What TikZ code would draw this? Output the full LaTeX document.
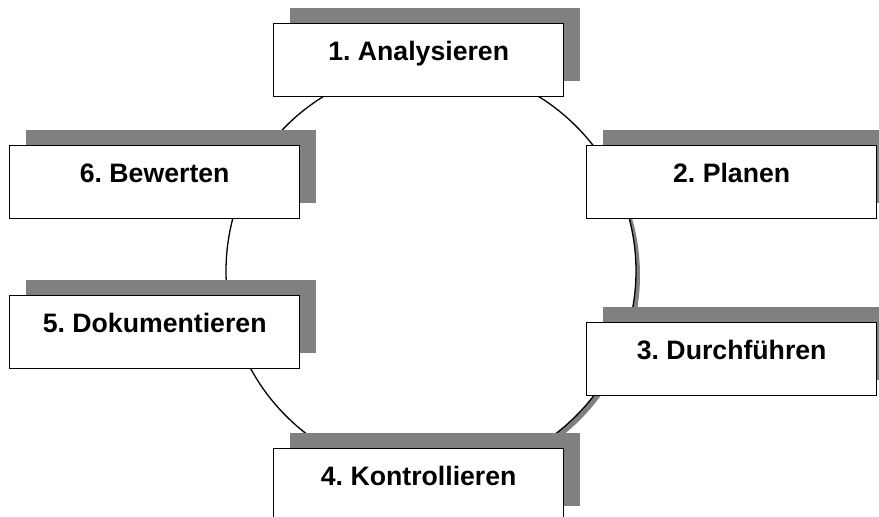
\documentclass[tikz,border=0pt]{standalone}
\usepackage{fontspec}
\setmainfont{Liberation Sans}
\usetikzlibrary{shadows}
\definecolor{shadowgray}{RGB}{128,128,128}
\tikzset{
  stepbox/.style={draw=black, line width=1.4pt, fill=white, rectangle,
    minimum width=290pt, inner xsep=0pt, inner ysep=0pt,
    text height=37pt, text depth=36pt, anchor=north west,
    font=\fontsize{26.67}{30}\selectfont\bfseries\frenchspacing,
    drop shadow={shadow xshift=16pt, shadow yshift=16pt, opacity=1, fill=shadowgray, draw=none}},
  cyclering/.style={circle, draw=black, line width=1.3pt, fill=white,
    minimum size=410pt, inner sep=0pt,
    drop shadow={shadow xshift=4pt, shadow yshift=-4pt, opacity=1, fill=shadowgray, draw=none}}
}
\begin{document}
\begin{tikzpicture}[x=1pt,y=-1pt]
\useasboundingbox (0,0) rectangle (879,517);
\clip (0,0) rectangle (879,517);
\node[cyclering] (ring) at (431,271) {};
\node[stepbox] (s1) at (273,23) {1. Analysieren};
\node[stepbox] (s2) at (586,145) {2. Planen};
\node[stepbox] (s3) at (586,322) {3. Durchführen};
\node[stepbox] (s4) at (273,448) {4. Kontrollieren};
\node[stepbox] (s5) at (9,295) {5. Dokumentieren};
\node[stepbox] (s6) at (9,145) {6. Bewerten};
\end{tikzpicture}
\end{document}
